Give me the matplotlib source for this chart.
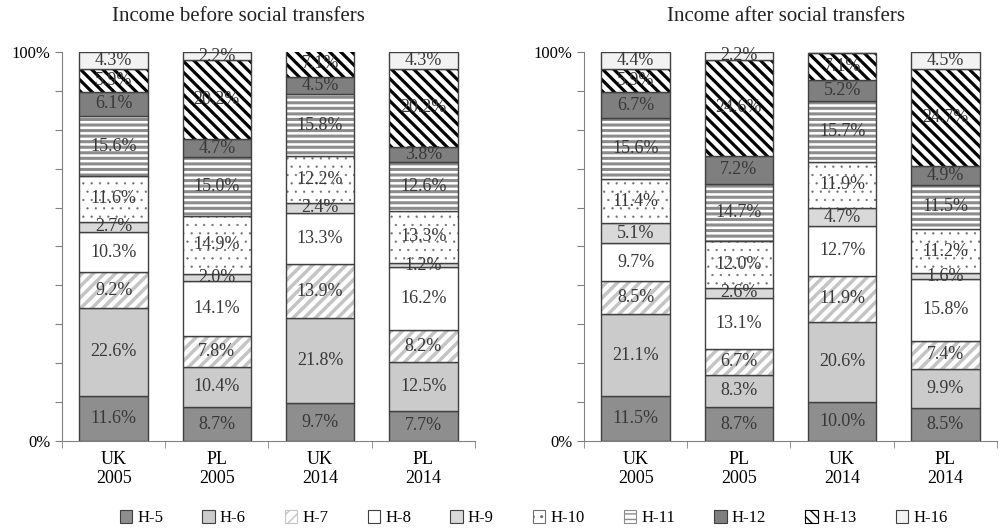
import numpy as np
import matplotlib
matplotlib.use('Agg')
import matplotlib.pyplot as plt
import matplotlib.patches as mpatches

plt.rcParams['font.family'] = ['Liberation Serif', 'DejaVu Serif']

categories = ['UK\n2005', 'PL\n2005', 'UK\n2014', 'PL\n2014']
series = ['H-5', 'H-6', 'H-7', 'H-8', 'H-9', 'H-10', 'H-11', 'H-12', 'H-13', 'H-16']

# shares (%) per bar, series order as above
before_uk2005 = [11.6, 22.6, 9.2, 10.3, 2.7, 11.6, 15.6, 6.1, 5.9, 4.3]
before_pl2005 = [8.7, 10.4, 7.8, 14.1, 2.0, 14.9, 15.0, 4.7, 20.2, 2.2]
before_uk2014 = [9.7, 21.8, 13.9, 13.3, 2.4, 12.2, 15.8, 4.5, 7.1, 0.0]
before_pl2014 = [7.7, 12.5, 8.2, 16.2, 1.2, 13.3, 12.6, 3.8, 20.2, 4.3]

after_uk2005 = [11.5, 21.1, 8.5, 9.7, 5.1, 11.4, 15.6, 6.7, 5.9, 4.4]
after_pl2005 = [8.7, 8.3, 6.7, 13.1, 2.6, 12.0, 14.7, 7.2, 24.6, 2.2]
after_uk2014 = [10.0, 20.6, 11.9, 12.7, 4.7, 11.9, 15.7, 5.2, 7.1, 0.0]
after_pl2014 = [8.5, 9.9, 7.4, 15.8, 1.6, 11.2, 11.5, 4.9, 24.7, 4.5]

# (face, hatch, hatch colour, hatch lw)
styles = [
    ('#8e8e8e', None, None, 0),
    ('#cbcbcb', None, None, 0),
    ('#ffffff', '///', '#c4c4c4', 2.5),
    ('#ffffff', None, None, 0),
    ('#d9d9d9', None, None, 0),
    ('#ffffff', '..', '#707070', 0.4),
    ('#ffffff', '---', '#8c8c8c', 2.2),
    ('#7f7f7f', None, None, 0),
    ('#ffffff', '\\\\\\', '#000000', 2.3),
    ('#f2f2f2', None, None, 0),
]

edge = '#404040'
txt = '#383838'
fs = 13


def draw_panel(ax, bars, title_x, title):
    data = np.array(bars).T  # series x bars
    x = np.arange(len(categories))
    bottom = np.zeros(len(categories))
    w = 0.665
    for i, vals in enumerate(data):
        face, hatch, hc, hlw = styles[i]
        with plt.rc_context({'hatch.linewidth': hlw if hlw else 1.0}):
            if hatch:
                bc = ax.bar(x, vals, w, bottom=bottom, color=face, edgecolor=hc,
                            hatch=hatch, linewidth=0)
                for p in bc:
                    if hasattr(p, 'set_hatch_linewidth'):
                        p.set_hatch_linewidth(hlw)
            else:
                ax.bar(x, vals, w, bottom=bottom, color=face, linewidth=0)
        ax.bar(x, vals, w, bottom=bottom, fill=False, edgecolor=edge, linewidth=1.0)
        for j, v in enumerate(vals):
            if v > 0:
                ax.text(x[j], bottom[j] + v / 2, f'{v:.1f}%', ha='center',
                        va='center', fontsize=fs, color=txt)
        bottom += vals

    ax.set_xlim(-0.5, len(categories) - 0.5)
    ax.set_ylim(0, 100)
    ax.set_yticks(np.arange(0, 101, 10))
    ax.set_yticklabels(['0%'] + [''] * 9 + ['100%'])
    ax.set_xticks(x)
    ax.set_xticklabels(categories)
    ax.set_xticks(np.arange(-0.5, len(categories), 1), minor=True)
    ax.tick_params(axis='x', which='major', length=0, pad=7, labelsize=13)
    ax.tick_params(axis='x', which='minor', length=5, color='#808080')
    ax.tick_params(axis='y', length=5, color='#808080', labelsize=12)
    for s in ['top', 'right']:
        ax.spines[s].set_visible(False)
    for s in ['left', 'bottom']:
        ax.spines[s].set_color('#808080')
    ax.figure.text(title_x, 0.968, title, ha='center', va='center', fontsize=15,
                   color='#222222')


fig = plt.figure(figsize=(10.07, 5.30), dpi=100)
ax1 = fig.add_axes([0.0616, 0.168, 0.410, 0.734])
ax2 = fig.add_axes([0.580, 0.168, 0.410, 0.734])

draw_panel(ax1, [before_uk2005, before_pl2005, before_uk2014, before_pl2014],
           0.237, 'Income before social transfers')
draw_panel(ax2, [after_uk2005, after_pl2005, after_uk2014, after_pl2014],
           0.781, 'Income after social transfers')

handles = []
for i, name in enumerate(series):
    face, hatch, hc, hlw = styles[i]
    handles.append(mpatches.Patch(facecolor=face, edgecolor=hc if hatch else edge,
                                  hatch=hatch, linewidth=0.8, label=name))
fig.legend(handles=handles, loc='center', bbox_to_anchor=(0.53, 0.022), ncol=10,
           frameon=False, fontsize=12, handlelength=0.75, handleheight=0.75,
           handletextpad=0.3, columnspacing=2.35)

fig.savefig('out.png', dpi=100)
